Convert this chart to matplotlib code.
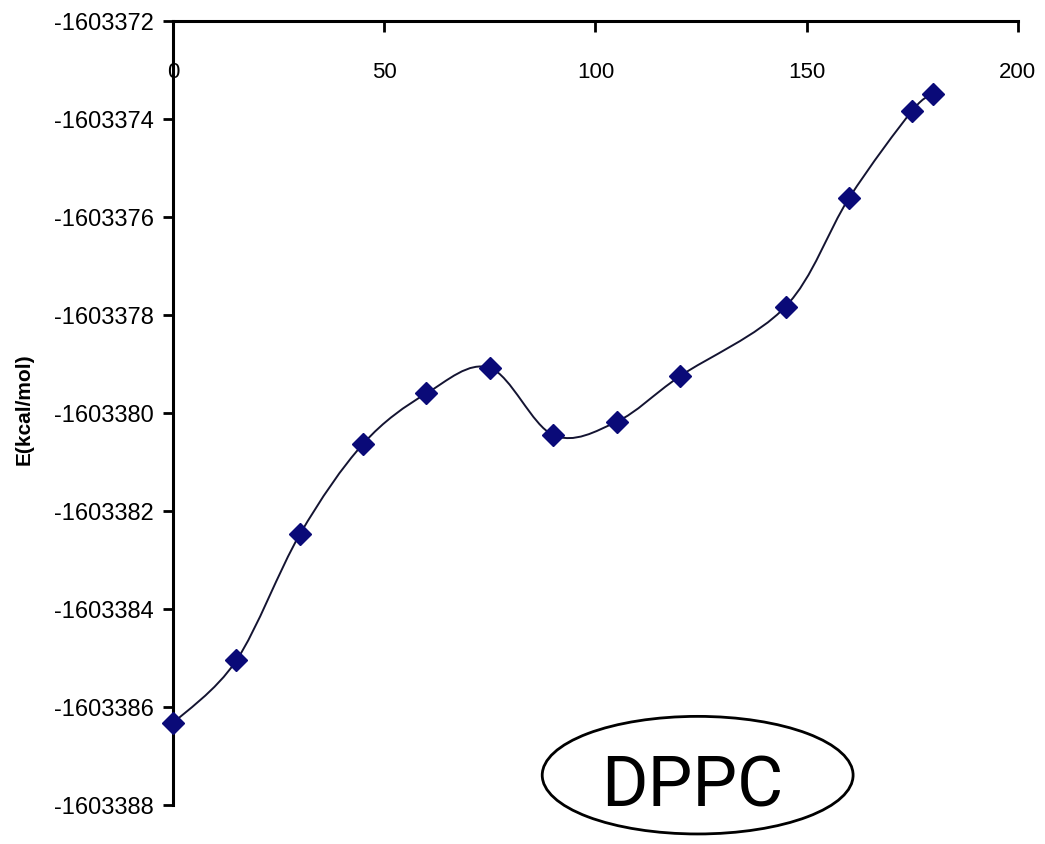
import matplotlib
matplotlib.use('Agg')
import matplotlib.pyplot as plt
from matplotlib.path import Path
from matplotlib.patches import PathPatch, Ellipse
import numpy as np

# dihedral angle (deg) and energy (kcal/mol)
angle = [0, 15, 30, 45, 60, 75, 90, 105, 120, 145, 160, 175, 180]
energy = [-1603386.33, -1603385.05, -1603382.48, -1603380.63, -1603379.60,
          -1603379.08, -1603380.45, -1603380.18, -1603379.25, -1603377.83,
          -1603375.62, -1603373.83, -1603373.50]
xticks = [0, 50, 100, 150, 200]
yticks = list(range(-1603388, -1603371, 2))

plt.rcParams['font.family'] = ['Liberation Sans', 'DejaVu Sans']

fig = plt.figure(figsize=(10.45, 8.45), dpi=100)
ax = fig.add_axes([0.1656, 0.0462, 0.8084, 0.9278])

# smoothed line (Catmull-Rom as cubic bezier, like excel's smooth line)
x = np.array(angle, dtype=float)
y = np.array(energy, dtype=float)
verts = [(x[0], y[0])]
codes = [Path.MOVETO]
n = len(x)
for i in range(n - 1):
  p0 = (x[i-1], y[i-1]) if i > 0 else (x[i], y[i])
  p3 = (x[i+2], y[i+2]) if i + 2 < n else (x[i+1], y[i+1])
  c1 = (x[i] + (x[i+1]-p0[0])/6.0, y[i] + (y[i+1]-p0[1])/6.0)
  c2 = (x[i+1] - (p3[0]-x[i])/6.0, y[i+1] - (p3[1]-y[i])/6.0)
  verts += [c1, c2, (x[i+1], y[i+1])]
  codes += [Path.CURVE4]*3
ax.add_patch(PathPatch(Path(verts, codes), fill=False, edgecolor='#141432', lw=1.4, zorder=2))
ax.plot(angle, energy, linestyle='none', marker='D', ms=11, color='#0a0a78', zorder=3, clip_on=False)

ax.set_xlim(0, 200)
ax.set_ylim(-1603388, -1603372)
ax.set_xticks(xticks)
ax.set_yticks(yticks)
ax.set_yticklabels([str(v) for v in yticks])
ax.set_xticklabels([str(v) for v in xticks])

for s in ['right', 'bottom']:
  ax.spines[s].set_visible(False)
for s in ['left', 'top']:
  ax.spines[s].set_linewidth(2.2)

ax.tick_params(axis='x', top=True, bottom=False, labeltop=True, labelbottom=False,
               direction='in', length=8, width=2, pad=-44, labelsize=16)
ax.tick_params(axis='y', direction='out', length=7, width=2, pad=7, labelsize=17)
ax.set_ylabel('E(kcal/mol)', fontsize=15, fontweight='bold')
ax.yaxis.set_label_coords(-0.165, 0.506)

# DPPC label in an ellipse
ax.add_patch(Ellipse((0.621, 0.038), 0.368, 0.15, transform=ax.transAxes,
                     fill=False, edgecolor='black', lw=2, clip_on=False))
ax.text(0.615, 0.024, 'DPPC', transform=ax.transAxes, ha='center', va='center',
        fontsize=51, family=['Roboto', 'DejaVu Sans'])

plt.savefig('out.png', dpi=100)
